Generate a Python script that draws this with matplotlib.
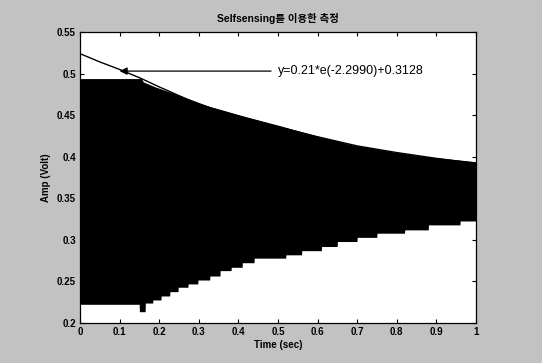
import matplotlib
matplotlib.use("Agg")
import matplotlib.pyplot as plt
import numpy as np

plt.rcParams['font.family'] = ['Liberation Sans', 'Noto Sans CJK KR', 'DejaVu Sans']

# upper edge of the black signal band
upperT = [0.0, 0.155, 0.16, 0.19, 0.25, 0.33, 0.42, 0.50, 0.59, 0.69, 0.79, 0.876, 1.0]
upperV = [0.494, 0.494, 0.490, 0.484, 0.474, 0.460, 0.448, 0.438, 0.426, 0.414, 0.406, 0.400, 0.394]

# lower edge of the black signal band (staircase, value holds until next time)
lowerT = [0.0, 0.15, 0.165, 0.184, 0.205, 0.227, 0.248, 0.273, 0.298, 0.328, 0.354,
          0.382, 0.41, 0.44, 0.48, 0.52, 0.56, 0.61, 0.65, 0.70, 0.75, 0.82, 0.88, 0.96]
lowerV = [0.2225, 0.2136, 0.224, 0.2277, 0.2325, 0.2377, 0.243, 0.247, 0.2517, 0.2565,
          0.263, 0.267, 0.2725, 0.278, 0.278, 0.282, 0.287, 0.292, 0.298, 0.303, 0.308, 0.312, 0.318, 0.3227]

# fitted decay curve
fitT = [0.0, 0.05, 0.1, 0.155, 0.2, 0.3, 0.4, 0.5, 0.6, 0.7, 0.8, 0.9, 1.0]
fitV = [0.524, 0.514, 0.505, 0.494, 0.484, 0.463, 0.449, 0.436, 0.424, 0.413, 0.405, 0.398, 0.392]

xTicks = [0, 0.1, 0.2, 0.3, 0.4, 0.5, 0.6, 0.7, 0.8, 0.9, 1]
yTicks = [0.2, 0.25, 0.3, 0.35, 0.4, 0.45, 0.5, 0.55]
fitLabel = "y=0.21*e(-2.2990)+0.3128"
graphTitle = "Selfsensing를 이용한 측정"

bgColor = "#c2c2c2"
fig = plt.figure(figsize=(5.42, 3.63), dpi=100, facecolor=bgColor)
ax = fig.add_axes([0.1476, 0.1102, 0.7306, 0.8016])
ax.set_facecolor("white")

# upper and lower edges joined into one filled band
grid = np.linspace(0, 1, 2001)
up = np.interp(grid, upperT, upperV)
idx = np.searchsorted(lowerT, grid, side="right") - 1
lo = np.array(lowerV)[idx]
ax.fill_between(grid, lo, up, color="black", linewidth=0, zorder=2)
ax.plot(fitT, fitV, color="black", linewidth=1.0, zorder=3)

ax.annotate(fitLabel, xy=(0.1, 0.503), xytext=(0.5, 0.503),
            fontsize=9, va="center", ha="left",
            arrowprops=dict(arrowstyle="-|>", color="black", lw=0.9,
                            shrinkA=3, shrinkB=0, mutation_scale=11),
            zorder=4)

ax.set_xlim(0, 1)
ax.set_ylim(0.2, 0.55)
ax.set_xticks(xTicks)
ax.set_xticklabels([("%g" % v) for v in xTicks], fontsize=7, fontweight="bold")
ax.set_yticks(yTicks)
ax.set_yticklabels([("%g" % v) for v in yTicks], fontsize=7, fontweight="bold")
ax.tick_params(direction="in", top=True, right=True, length=3, width=0.8, pad=3)
for s in ax.spines.values():
    s.set_linewidth(0.9)

ax.set_xlabel("Time (sec)", fontsize=7, fontweight="bold", labelpad=2)
ax.set_ylabel("Amp (Volt)", fontsize=7, fontweight="bold", labelpad=4)
ax.set_title(graphTitle, fontsize=7.5, fontweight="bold", pad=7)

fig.savefig("out.png", dpi=100, facecolor=bgColor)
